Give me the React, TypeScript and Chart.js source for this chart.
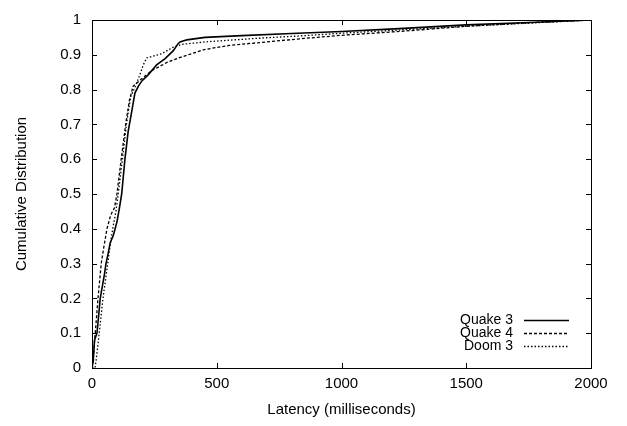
import React, { useEffect, useRef } from "react";
import { Chart, registerables } from "chart.js";

Chart.register(...registerables);

const seriesLabels = ["Quake 3", "Quake 4", "Doom 3"];

const quake3X = [0, 5, 10, 20, 33, 50, 56, 65, 73, 85, 100, 110, 119, 132, 145, 160, 172, 186, 200, 226, 259, 293, 326, 345, 353, 380, 453, 600, 800, 1000, 1250, 1500, 1750, 2000];
const quake3Y = [0, 0.02, 0.08, 0.1, 0.2, 0.27, 0.3, 0.33, 0.36, 0.38, 0.42, 0.46, 0.5, 0.6, 0.68, 0.74, 0.79, 0.81, 0.825, 0.843, 0.871, 0.889, 0.912, 0.932, 0.937, 0.943, 0.95, 0.955, 0.961, 0.967, 0.976, 0.986, 0.993, 1];

const quake4X = [0, 5, 13, 24, 37, 48, 60, 75, 90, 100, 117, 135, 150, 165, 204, 240, 275, 300, 360, 450, 550, 700, 850, 1000, 1250, 1500, 1750, 2000];
const quake4Y = [0, 0.03, 0.1, 0.2, 0.3, 0.35, 0.4, 0.44, 0.46, 0.5, 0.6, 0.7, 0.77, 0.81, 0.834, 0.855, 0.868, 0.878, 0.894, 0.915, 0.927, 0.937, 0.947, 0.956, 0.968, 0.982, 0.992, 1];

const doom3X = [0, 12, 18, 29, 44, 63, 72, 83, 96, 105, 122, 138, 155, 172, 192, 205, 219, 279, 326, 359, 453, 550, 700, 850, 1000, 1250, 1500, 1750, 2000];
const doom3Y = [0, 0, 0.03, 0.1, 0.2, 0.3, 0.35, 0.4, 0.45, 0.5, 0.6, 0.7, 0.78, 0.806, 0.843, 0.87, 0.891, 0.903, 0.922, 0.93, 0.937, 0.942, 0.949, 0.955, 0.962, 0.972, 0.982, 0.991, 1];

const xTicks = [0, 500, 1000, 1500, 2000];
const yTicks = [0, 0.1, 0.2, 0.3, 0.4, 0.5, 0.6, 0.7, 0.8, 0.9, 1];

const FONT = "'Liberation Sans', Arial, sans-serif";

const toPoints = (xs: number[], ys: number[]) => xs.map((x, i) => ({ x, y: ys[i] }));

const frameAndLegend = {
  id: "frameAndLegend",
  afterDraw(chart: any) {
    const { ctx, chartArea } = chart;
    const { left, right, top, bottom } = chartArea;
    const xs = chart.scales.x;
    const ys = chart.scales.y;
    ctx.save();
    ctx.strokeStyle = "#000";
    ctx.lineWidth = 1;
    ctx.setLineDash([]);
    ctx.strokeRect(Math.round(left) + 0.5, Math.round(top) + 0.5, Math.round(right - left), Math.round(bottom - top));
    const tl = 5;
    ctx.beginPath();
    for (const v of xTicks) {
      const px = Math.round(xs.getPixelForValue(v)) + 0.5;
      ctx.moveTo(px, bottom);
      ctx.lineTo(px, bottom - tl);
      ctx.moveTo(px, top);
      ctx.lineTo(px, top + tl);
    }
    for (const v of yTicks) {
      const py = Math.round(ys.getPixelForValue(v)) + 0.5;
      ctx.moveTo(left, py);
      ctx.lineTo(left + tl, py);
      ctx.moveTo(right, py);
      ctx.lineTo(right - tl, py);
    }
    ctx.stroke();

    // legend (gnuplot style: text then sample)
    ctx.font = `14px ${FONT}`;
    ctx.fillStyle = "#000";
    ctx.textAlign = "right";
    ctx.textBaseline = "middle";
    const textRight = right - 78;
    const sampleL = right - 67;
    const sampleR = right - 22;
    chart.data.datasets.forEach((ds: any, i: number) => {
      const y = bottom - 48 + i * 13;
      ctx.fillText(ds.label, textRight, y);
      ctx.beginPath();
      ctx.setLineDash(ds.borderDash || []);
      ctx.lineWidth = ds.borderWidth;
      ctx.strokeStyle = "#000";
      ctx.moveTo(sampleL, Math.round(y) + 0.5);
      ctx.lineTo(sampleR, Math.round(y) + 0.5);
      ctx.stroke();
    });
    ctx.restore();
  },
};

export default function App() {
  const ref = useRef<HTMLCanvasElement | null>(null);
  useEffect(() => {
    if (!ref.current) return;
    const chart = new Chart(ref.current, {
      type: "line",
      data: {
        datasets: [
          {
            label: seriesLabels[0],
            data: toPoints(quake3X, quake3Y),
            borderColor: "#000",
            borderWidth: 1.6,
            pointRadius: 0,
            tension: 0,
            fill: false,
          },
          {
            label: seriesLabels[1],
            data: toPoints(quake4X, quake4Y),
            borderColor: "#000",
            borderWidth: 1.3,
            borderDash: [3, 2],
            pointRadius: 0,
            tension: 0,
            fill: false,
          },
          {
            label: seriesLabels[2],
            data: toPoints(doom3X, doom3Y),
            borderColor: "#000",
            borderWidth: 1.3,
            borderDash: [1.5, 2],
            pointRadius: 0,
            tension: 0,
            fill: false,
          },
        ],
      },
      options: {
        responsive: false,
        animation: false,
        layout: { padding: { top: 9, right: 36, left: 0, bottom: 0 } },
        plugins: {
          legend: { display: false },
          tooltip: { enabled: false },
        },
        scales: {
          x: {
            type: "linear",
            min: 0,
            max: 2000,
            afterBuildTicks: (s: any) => {
              s.ticks = xTicks.map((v) => ({ value: v }));
            },
            afterFit: (s: any) => {
              s.height = 58;
            },
            grid: { display: false, drawTicks: false },
            border: { display: false },
            ticks: {
              color: "#000",
              font: { family: FONT, size: 15 },
              padding: 7,
              maxRotation: 0,
              callback: (v: any) => String(v),
            },
            title: {
              display: true,
              text: "Latency (milliseconds)",
              color: "#000",
              font: { family: FONT, size: 15 },
              padding: { top: 0, bottom: 7 },
            },
          },
          y: {
            type: "linear",
            min: 0,
            max: 1,
            afterBuildTicks: (s: any) => {
              s.ticks = yTicks.map((v) => ({ value: v }));
            },
            afterFit: (s: any) => {
              s.width = 92;
            },
            grid: { display: false, drawTicks: false },
            border: { display: false },
            ticks: {
              color: "#000",
              font: { family: FONT, size: 15 },
              padding: 11,
              callback: (v: any) => String(Math.round(Number(v) * 10) / 10),
            },
            title: {
              display: true,
              text: "Cumulative Distribution",
              color: "#000",
              font: { family: FONT, size: 15 },
              padding: { top: 13, bottom: 0 },
            },
          },
        },
      },
      plugins: [frameAndLegend],
    } as any);
    return () => chart.destroy();
  }, []);
  return (
    <div style={{ position: "absolute", left: 0, top: 0, width: 627, height: 426, background: "#fff" }}>
      <canvas ref={ref} width={627} height={426} style={{ width: 627, height: 426 }} />
    </div>
  );
}
